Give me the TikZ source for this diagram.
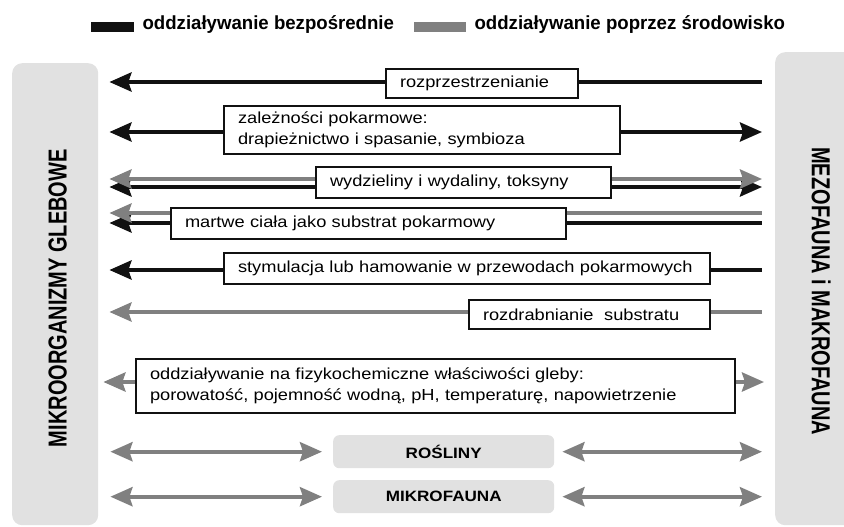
\documentclass[tikz,border=0pt]{standalone}
\usepackage{fontspec}
\usepackage{graphicx}
\setmainfont{Liberation Sans}
\newfontfamily\boxfont{Liberation Sans}[FakeStretch=1.14]
\newfontfamily\legendfont{Liberation Sans}[FakeStretch=0.98]
\usetikzlibrary{arrows.meta,backgrounds}
\definecolor{bargray}{RGB}{225,225,225}
\definecolor{arrowgray}{RGB}{128,128,128}
\definecolor{darkline}{RGB}{17,17,17}

\begin{document}
\begin{tikzpicture}[x=1pt,y=-1pt,
    >={Stealth[length=22pt,width=19pt,inset=3pt]},
    bar/.style={fill=bargray, rounded corners=10pt, anchor=north west, inner sep=0pt},
    barlabel/.style={font={\bfseries\fontsize{20}{24}\selectfont}},
    box/.style={draw=darkline, line width=2pt, fill=white, anchor=north west,
        inner xsep=14pt, inner ysep=0pt, align=left,
        font={\boxfont\fontsize{16}{21}\selectfont}},
    plant/.style={fill=bargray, rounded corners=6pt, anchor=north west,
        minimum width=221pt, minimum height=33pt,
        font={\boxfont\bfseries\fontsize{15}{18}\selectfont}},
    legend/.style={anchor=west, inner xsep=8pt, font={\legendfont\bfseries\fontsize{19}{22}\selectfont}},
    direct/.style={draw=darkline, line width=4pt},
    indirect/.style={draw=arrowgray, line width=4pt},
    span/.style={shorten <=11pt, shorten >=13pt}]
    \clip (0,0) rectangle (844,527);

    % legend
    \node[fill=darkline, minimum width=43pt, minimum height=10pt, inner sep=0pt, anchor=west] (keydirect) at (91,27) {};
    \node[legend, yshift=2pt] at (keydirect.east) {oddziaływanie bezpośrednie};
    \node[fill=arrowgray, minimum width=52pt, minimum height=10pt, inner sep=0pt, anchor=west] (keyindirect) at (414,27) {};
    \node[legend, yshift=2pt] at (keyindirect.east) {oddziaływanie poprzez środowisko};

    % the two groups of organisms
    \node[bar, minimum width=86pt, minimum height=462pt] (mikro) at (12,63) {};
    \node[barlabel, rotate=90, xshift=-4pt, yshift=-2.5pt] at (mikro.center) {\scalebox{1}[1.3]{MIKROORGANIZMY GLEBOWE}};
    \node[bar, minimum width=90pt, minimum height=473pt] (mezo) at (775,52) {};
    \node[barlabel, rotate=-90, xshift=2.5pt, yshift=1pt] at (mezo.center) {\scalebox{1}[1.3]{MEZOFAUNA i MAKROFAUNA}};

    % kinds of interaction
    \node[box, text width=164pt, minimum height=29pt] (spread) at (385,68) {rozprzestrzenianie};
    \node[box, text width=368pt, minimum height=48pt] (food) at (223,105) {zależności pokarmowe:\\drapieżnictwo i spasanie, symbioza};
    \node[box, text width=267pt, minimum height=31pt] (excr) at (315,166) {wydzieliny i wydaliny, toksyny};
    \node[box, text width=367pt, minimum height=31pt] (dead) at (170,207) {martwe ciała jako substrat pokarmowy};
    \node[box, text width=458pt, minimum height=31pt] (stim) at (223,252) {stymulacja lub hamowanie w przewodach pokarmowych};
    \node[box, text width=213pt, minimum height=29pt] (grind) at (468,299) {rozdrabnianie\ \ substratu};
    \node[box, text width=571pt, minimum height=54pt] (soil) at (135,358) {oddziaływanie na fizykochemiczne właściwości gleby:\\porowatość, pojemność wodną, pH, temperaturę, napowietrzenie};
    \node[plant] (plants) at (333,435) {ROŚLINY};
    \node[plant] (micro) at (333,480) {MIKROFAUNA};

    % arrows behind the boxes
    \begin{scope}[on background layer]
        \coordinate (r1) at (0,82);
        \coordinate (r2) at (0,132);
        \coordinate (r3a) at (0,179);
        \coordinate (r3b) at (0,187);
        \coordinate (r4a) at (0,213);
        \coordinate (r4b) at (0,223);
        \coordinate (r5) at (0,270);
        \coordinate (r6) at (0,312);
        \coordinate (r7) at (0,382);

        \draw[direct, span, <-] (mikro.east |- r1) -- (mezo.west |- r1);
        \draw[direct, span, <->] (mikro.east |- r2) -- (mezo.west |- r2);
        \draw[direct, span, <->] (mikro.east |- r3b) -- (mezo.west |- r3b);
        \draw[indirect, span, <->] (mikro.east |- r3a) -- (mezo.west |- r3a);
        \draw[direct, span, <-] (mikro.east |- r4b) -- (mezo.west |- r4b);
        \draw[indirect, span, <-] (mikro.east |- r4a) -- (mezo.west |- r4a);
        \draw[direct, span, <-] (mikro.east |- r5) -- (mezo.west |- r5);
        \draw[indirect, span, <-] (mikro.east |- r6) -- (mezo.west |- r6);
        \draw[indirect, shorten <=5pt, shorten >=11pt, <->] (mikro.east |- r7) -- (mezo.west |- r7);
    \end{scope}

    % plants and microfauna in between
    \draw[indirect, shorten <=12pt, shorten >=11pt, <->] (mikro.east |- plants) -- (plants.west);
    \draw[indirect, shorten <=8pt, shorten >=13pt, <->] (plants.east) -- (mezo.west |- plants);
    \draw[indirect, shorten <=12pt, shorten >=11pt, <->] (mikro.east |- micro) -- (micro.west);
    \draw[indirect, shorten <=8pt, shorten >=13pt, <->] (micro.east) -- (mezo.west |- micro);
\end{tikzpicture}
\end{document}
